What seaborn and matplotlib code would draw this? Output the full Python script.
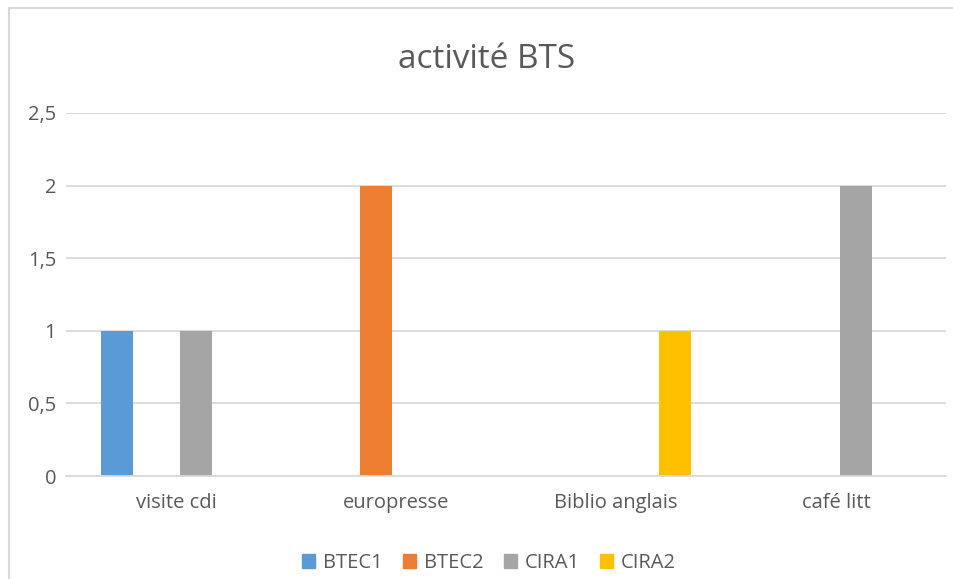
import matplotlib
matplotlib.use("Agg")
import matplotlib.pyplot as plt
import seaborn as sns
import pandas as pd
from matplotlib.patches import Rectangle
from matplotlib.lines import Line2D

categories = ["visite cdi", "europresse", "Biblio anglais", "café litt"]
series = ["BTEC1", "BTEC2", "CIRA1", "CIRA2"]
btec1 = [1, 0, 0, 0]
btec2 = [0, 2, 0, 0]
cira1 = [1, 0, 0, 2]
cira2 = [0, 0, 1, 0]
yticks = [0, 0.5, 1, 1.5, 2, 2.5]
ytick_labels = ["0", "0,5", "1", "1,5", "2", "2,5"]
colors = ["#5B9BD5", "#ED7D31", "#A5A5A5", "#FFC000"]

rows = []
for s, vals in zip(series, [btec1, btec2, cira1, cira2]):
    for c, v in zip(categories, vals):
        rows.append({"cat": c, "serie": s, "val": v})
df = pd.DataFrame(rows)

sns.set_theme(style="white")
plt.rcParams["font.family"] = ["Open Sans", "DejaVu Sans"]
txt = "#595959"

fig = plt.figure(figsize=(9.54, 5.79), dpi=100)
ax = fig.add_axes([66/954, 1-476/579, 880/954, (476-113)/579])
sns.barplot(data=df, x="cat", y="val", hue="serie", palette=colors,
            width=0.718, gap=0.19, ax=ax, legend=False, saturation=1,
            linewidth=0)
ax.set_ylim(0, 2.5)
ax.set_xlim(-0.5, 3.5)
ax.set_yticks(yticks)
ax.set_yticklabels(ytick_labels, color=txt, fontsize=14.5)
ax.tick_params(axis="x", colors=txt, labelsize=14.5, length=0, pad=12)
ax.tick_params(axis="y", length=0, pad=7)
for t in ax.get_xticklabels():
    t.set_color(txt)
ax.set_xlabel("")
ax.set_ylabel("")
ax.yaxis.grid(True, color="#d9d9d9", linewidth=1.3)
ax.set_axisbelow(True)
for sp in ["top", "right", "left"]:
    ax.spines[sp].set_visible(False)
ax.spines["bottom"].set_color("#d9d9d9")
ax.spines["bottom"].set_linewidth(1.3)

fig.text(487/954, 1-60/579, "activité BTS", ha="center", va="center",
         fontsize=24, color=txt)

handles = [Rectangle((0, 0), 1, 1, color=c) for c in colors]
fig.legend(handles, series, loc="center", bbox_to_anchor=(489/954, 1-563/579),
           ncol=4, frameon=False, fontsize=14.5, labelcolor=txt,
           handlelength=0.65, handleheight=0.65, handletextpad=0.4, columnspacing=1.0)

# outer chart border (top and left only visible)
fig.lines.append(Line2D([9/954, 9/954], [0, 1-8/579], transform=fig.transFigure,
                        color="#d9d9d9", linewidth=1.5))
fig.lines.append(Line2D([9/954, 1], [1-8/579, 1-8/579], transform=fig.transFigure,
                        color="#d9d9d9", linewidth=1.5))

fig.savefig("out.png", dpi=100)
